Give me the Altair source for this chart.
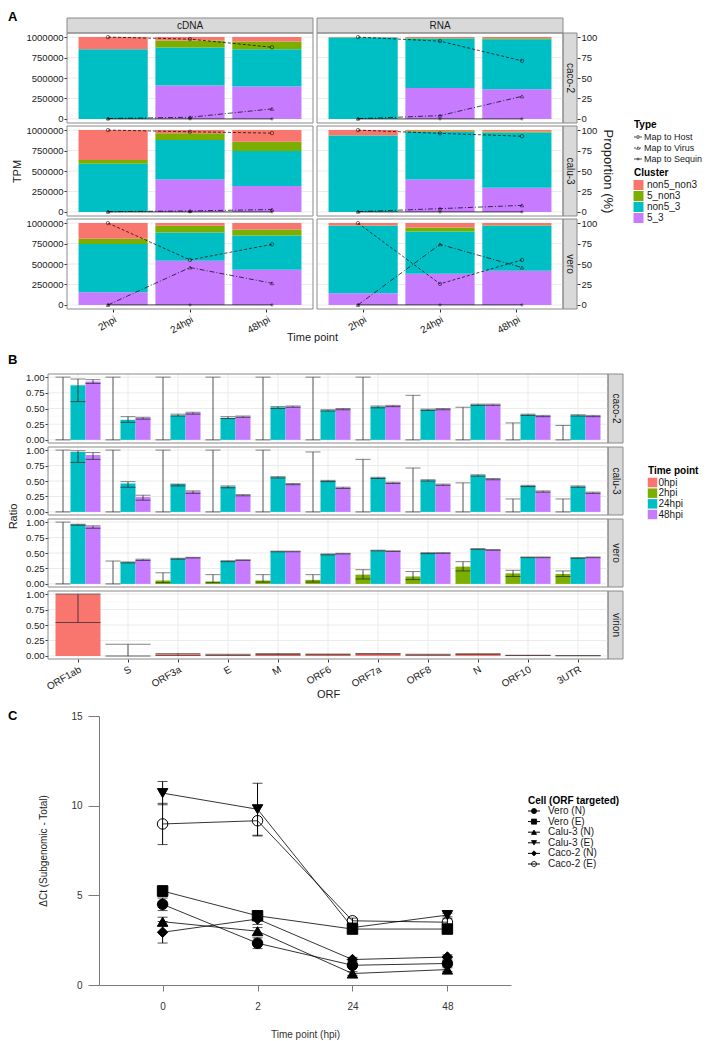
import altair as alt
import pandas as pd

FONT = "Liberation Sans"
TXT = "#1a1a1a"
TICK = "#333333"
BORDER = "#8a8a8a"
STRIP_FILL = "#d9d9d9"
GRID_MAJOR = "#ebebeb"
GRID_MINOR = "#f5f5f5"
AXC = "#7a7a7a"
PLUS = "M-1,0L1,0M0,-1L0,1"

# ---------------- Panel A data ----------------
libraries = ["cDNA", "RNA"]
cell_lines_a = ["caco-2", "calu-3", "vero"]
time_a = ["2hpi", "24hpi", "48hpi"]
clusters = ["non5_non3", "5_non3", "non5_3", "5_3"]
cluster_colors = ["#F8766D", "#7CAE00", "#00BFC4", "#C77CFF"]
stack_order = ["5_3", "non5_3", "5_non3", "non5_non3"]
map_types = ["Map to Host", "Map to Virus", "Map to Sequin"]
map_dashes = [[3, 2], [5, 2, 1, 2], [1, 0]]
map_shapes = ["circle", "triangle-up", PLUS]

# order: cDNA caco-2 (2,24,48hpi), cDNA calu-3, cDNA vero, RNA caco-2, RNA calu-3, RNA vero
tpm_5_3 = [0, 407000, 395000, 0, 396000, 318000, 155000, 539000, 429000,
           0, 379000, 362000, 0, 396000, 294000, 143000, 380000, 416000]
tpm_non5_3 = [852000, 465000, 457000, 590000, 482000, 426000, 588000, 347000, 420000,
              995000, 604000, 613000, 935000, 584000, 676000, 824000, 518000, 551000]
tpm_5_non3 = [0, 87000, 95000, 43000, 82000, 113000, 65000, 81000, 73000,
              2000, 7000, 12000, 3000, 8000, 12000, 5000, 49000, 8000]
tpm_non5_non3 = [148000, 41000, 53000, 367000, 40000, 143000, 192000, 33000, 78000,
                 3000, 10000, 13000, 62000, 12000, 18000, 28000, 53000, 25000]
pct_host = [100, 97.5, 87.6, 100, 98.0, 96.3, 100, 55.0, 74.0,
            100, 95.0, 71.0, 100, 96.0, 92.5, 100, 25.7, 55.0]
pct_virus = [0.5, 2.0, 12.3, 0.3, 1.2, 2.9, 0.0, 45.7, 26.5,
             0.3, 4.0, 27.6, 0.3, 4.0, 8.0, 0.0, 74.0, 45.7]
pct_sequin = [0.0, 0.0, 0.0, 0.0, 0.0, 0.0, 0.0, 0.0, 0.0,
              0.0, 0.0, 0.0, 0.0, 0.0, 0.0, 0.0, 0.0, 0.0]
tpm_ticks = [0, 250000, 500000, 750000, 1000000]
tpm_minor = [125000, 375000, 625000, 875000]
pct_ticks = [0, 25, 50, 75, 100]

# ---------------- Panel B data ----------------
orfs = ["ORF1ab", "S", "ORF3a", "E", "M", "ORF6", "ORF7a", "ORF8", "N", "ORF10", "3UTR"]
time_b = ["0hpi", "2hpi", "24hpi", "48hpi"]
time_colors = ["#F8766D", "#7CAE00", "#00BFC4", "#C77CFF"]
cell_lines_b = ["caco-2", "calu-3", "vero", "virion"]
ratio_ticks = [0, 0.25, 0.5, 0.75, 1.0]
ratio_minor = [0.125, 0.375, 0.625, 0.875]

caco2_2hpi = [0, 0, 0, 0, 0, 0, 0, 0, 0, 0, 0]
caco2_2hpi_lo = [0, 0, 0, 0, 0, 0, 0, 0, 0, 0, 0]
caco2_2hpi_hi = [1.0, 1.0, 1.0, 1.0, 1.0, 1.0, 1.0, 0.71, 0.52, 0.27, 0.23]
caco2_24hpi = [0.87, 0.32, 0.39, 0.35, 0.52, 0.47, 0.53, 0.48, 0.56, 0.40, 0.39]
caco2_24hpi_lo = [0.61, 0.28, 0.38, 0.34, 0.50, 0.46, 0.51, 0.47, 0.55, 0.39, 0.38]
caco2_24hpi_hi = [0.97, 0.37, 0.41, 0.37, 0.53, 0.48, 0.54, 0.49, 0.57, 0.41, 0.40]
caco2_48hpi = [0.93, 0.35, 0.43, 0.37, 0.53, 0.49, 0.54, 0.49, 0.56, 0.38, 0.38]
caco2_48hpi_lo = [0.90, 0.33, 0.41, 0.36, 0.52, 0.48, 0.53, 0.48, 0.55, 0.37, 0.37]
caco2_48hpi_hi = [0.96, 0.36, 0.44, 0.38, 0.54, 0.50, 0.55, 0.50, 0.57, 0.39, 0.39]

calu3_2hpi = [0, 0, 0, 0, 0, 0, 0, 0, 0, 0, 0]
calu3_2hpi_lo = [0, 0, 0, 0, 0, 0, 0, 0, 0, 0, 0]
calu3_2hpi_hi = [1.0, 1.0, 1.0, 1.0, 1.0, 0.97, 0.85, 0.71, 0.47, 0.21, 0.21]
calu3_24hpi = [0.97, 0.46, 0.45, 0.41, 0.56, 0.50, 0.55, 0.51, 0.59, 0.42, 0.41]
calu3_24hpi_lo = [0.80, 0.40, 0.42, 0.39, 0.55, 0.49, 0.54, 0.50, 0.58, 0.41, 0.40]
calu3_24hpi_hi = [0.99, 0.49, 0.45, 0.42, 0.57, 0.51, 0.56, 0.52, 0.60, 0.43, 0.42]
calu3_48hpi = [0.92, 0.24, 0.33, 0.27, 0.45, 0.39, 0.47, 0.44, 0.53, 0.33, 0.31]
calu3_48hpi_lo = [0.85, 0.19, 0.30, 0.26, 0.44, 0.38, 0.46, 0.43, 0.52, 0.32, 0.30]
calu3_48hpi_hi = [0.96, 0.27, 0.34, 0.28, 0.46, 0.40, 0.48, 0.45, 0.54, 0.34, 0.32]

vero_2hpi = [0, 0, 0.055, 0.04, 0.055, 0.065, 0.15, 0.12, 0.28, 0.17, 0.16]
vero_2hpi_lo = [0, 0, 0.02, 0.02, 0.03, 0.03, 0.08, 0.07, 0.21, 0.12, 0.12]
vero_2hpi_hi = [1.0, 0.37, 0.18, 0.15, 0.15, 0.15, 0.23, 0.20, 0.36, 0.22, 0.21]
vero_24hpi = [0.96, 0.35, 0.41, 0.37, 0.525, 0.48, 0.54, 0.50, 0.565, 0.43, 0.42]
vero_24hpi_lo = [0.95, 0.34, 0.40, 0.36, 0.52, 0.47, 0.535, 0.49, 0.56, 0.425, 0.415]
vero_24hpi_hi = [0.965, 0.355, 0.415, 0.375, 0.53, 0.485, 0.545, 0.505, 0.57, 0.435, 0.425]
vero_48hpi = [0.93, 0.39, 0.425, 0.385, 0.525, 0.49, 0.53, 0.50, 0.55, 0.43, 0.43]
vero_48hpi_lo = [0.90, 0.38, 0.42, 0.38, 0.52, 0.485, 0.525, 0.495, 0.545, 0.425, 0.425]
vero_48hpi_hi = [0.94, 0.40, 0.43, 0.39, 0.53, 0.495, 0.535, 0.505, 0.555, 0.435, 0.435]

virion_0hpi = [1.0, 0.0, 0.025, 0.02, 0.03, 0.025, 0.035, 0.02, 0.03, 0.01, 0.005]
virion_0hpi_lo = [0.54, 0.0, 0.01, 0.01, 0.02, 0.02, 0.03, 0.015, 0.025, 0.005, 0.003]
virion_0hpi_hi = [1.0, 0.19, 0.04, 0.025, 0.04, 0.03, 0.04, 0.025, 0.035, 0.012, 0.007]

# ---------------- Panel C data ----------------
cells_c = ["Vero (N)", "Vero (E)", "Calu-3 (N)", "Calu-3 (E)", "Caco-2 (N)", "Caco-2 (E)"]
shapes_c = ["circle", "square", "triangle-up", "triangle-down", "diamond", "circle"]
fills_c = ["black", "black", "black", "black", "black", "transparent"]
hpi_c = ["0", "2", "24", "48"]
dct_ticks = [0, 5, 10, 15]
dct_vero_n = [4.50, 2.33, 1.10, 1.20]
err_vero_n = [0.35, 0.30, 0.10, 0.15]
dct_vero_e = [5.24, 3.86, 3.12, 3.12]
err_vero_e = [0.30, 0.25, 0.20, 0.20]
dct_calu3_n = [3.53, 3.00, 0.64, 0.86]
err_calu3_n = [0.25, 0.20, 0.10, 0.10]
dct_calu3_e = [10.70, 9.80, 3.20, 3.90]
err_calu3_e = [0.65, 1.45, 0.10, 0.10]
dct_caco2_n = [2.94, 3.68, 1.42, 1.56]
err_caco2_n = [0.60, 0.30, 0.12, 0.12]
dct_caco2_e = [8.98, 9.16, 3.58, 3.50]
err_caco2_e = [1.15, 0.85, 0.15, 0.20]

# ---------------- data frames ----------------
tpm_by_cluster = {"5_3": tpm_5_3, "non5_3": tpm_non5_3,
                  "5_non3": tpm_5_non3, "non5_non3": tpm_non5_non3}
pct_by_type = {"Map to Host": pct_host, "Map to Virus": pct_virus, "Map to Sequin": pct_sequin}
recA, recL = [], []
idx = 0
for lib in libraries:
    for cl in cell_lines_a:
        for t in time_a:
            for k, c in enumerate(stack_order):
                recA.append({"library": lib, "cell": cl, "time": t, "cluster": c,
                             "order": k, "tpm": tpm_by_cluster[c][idx]})
            for m in map_types:
                recL.append({"library": lib, "cell": cl, "time": t, "type": m,
                             "pct": pct_by_type[m][idx]})
            idx += 1
dfA = pd.DataFrame(recA)
dfL = pd.DataFrame(recL)

b_series = [
    ("caco-2", "2hpi", caco2_2hpi, caco2_2hpi_lo, caco2_2hpi_hi),
    ("caco-2", "24hpi", caco2_24hpi, caco2_24hpi_lo, caco2_24hpi_hi),
    ("caco-2", "48hpi", caco2_48hpi, caco2_48hpi_lo, caco2_48hpi_hi),
    ("calu-3", "2hpi", calu3_2hpi, calu3_2hpi_lo, calu3_2hpi_hi),
    ("calu-3", "24hpi", calu3_24hpi, calu3_24hpi_lo, calu3_24hpi_hi),
    ("calu-3", "48hpi", calu3_48hpi, calu3_48hpi_lo, calu3_48hpi_hi),
    ("vero", "2hpi", vero_2hpi, vero_2hpi_lo, vero_2hpi_hi),
    ("vero", "24hpi", vero_24hpi, vero_24hpi_lo, vero_24hpi_hi),
    ("vero", "48hpi", vero_48hpi, vero_48hpi_lo, vero_48hpi_hi),
    ("virion", "0hpi", virion_0hpi, virion_0hpi_lo, virion_0hpi_hi),
]
recB = []
for cl, t, vals, los, his in b_series:
    for o, v, lo, hi in zip(orfs, vals, los, his):
        recB.append({"cell": cl, "time": t, "orf": o, "ratio": v, "lo": lo, "hi": hi})
dfB = pd.DataFrame(recB)

c_series = [
    ("Vero (N)", dct_vero_n, err_vero_n), ("Vero (E)", dct_vero_e, err_vero_e),
    ("Calu-3 (N)", dct_calu3_n, err_calu3_n), ("Calu-3 (E)", dct_calu3_e, err_calu3_e),
    ("Caco-2 (N)", dct_caco2_n, err_caco2_n), ("Caco-2 (E)", dct_caco2_e, err_caco2_e),
]
recC = []
for cl, vals, errs in c_series:
    for h, v, e in zip(hpi_c, vals, errs):
        recC.append({"cell": cl, "hpi": h, "dct": v, "lo": v - e, "hi": v + e})
dfC = pd.DataFrame(recC)

# ---------------- layout helpers (page px -> chart px) ----------------
W, H = 696, 1033


def cx(x):
    return x - 8


def cy(y):
    return y - 8


def band_scale(domain, left, right):
    return alt.Scale(domain=domain, range=[cx(left), cx(right)], paddingInner=0.1,
                     paddingOuter=0.15)


def lin_scale(domain, top, bottom):
    return alt.Scale(domain=domain, range=[cy(bottom), cy(top)], nice=False, zero=False)


def one(**kw):
    return pd.DataFrame({k: [v] for k, v in kw.items()})


def text_at(s, x, y, size=10, weight="normal", align="center", baseline="middle", angle=0,
            color=TXT):
    return alt.Chart(one(t=s)).mark_text(
        fontSize=size, fontWeight=weight, align=align, baseline=baseline, angle=angle,
        color=color).encode(text="t:N", x=alt.value(cx(x)), y=alt.value(cy(y)))


def box(left, top, right, bottom, fill="transparent", stroke=BORDER):
    return alt.Chart(one(a=0)).mark_rect(fill=fill, stroke=stroke, strokeWidth=1).encode(
        x=alt.value(cx(left)), x2=alt.value(cx(right)), y=alt.value(cy(top)),
        y2=alt.value(cy(bottom)))


def hgrid(values, ysc, left, right, color, width):
    return alt.Chart(pd.DataFrame({"v": values})).mark_rule(color=color, strokeWidth=width).encode(
        y=alt.Y("v:Q", scale=ysc, axis=None), x=alt.value(cx(left)), x2=alt.value(cx(right)))


def left_axis(x, **kw):
    return alt.Axis(orient="left", offset=-cx(x), **kw)


def right_axis(x, **kw):
    return alt.Axis(orient="right", offset=cx(x) - W, **kw)


def bottom_axis(y, **kw):
    return alt.Axis(orient="bottom", offset=cy(y) - H, **kw)


layers = []

# ---------------- Panel A ----------------
A_cols = {"cDNA": (67, 313), "RNA": (317, 563)}
A_rows = [(33, 123), (126, 216), (219, 309)]

layers.append(text_at("A", 8, 21, size=13, weight="bold", align="left", baseline="alphabetic",
                      color="black"))
for lib in libraries:
    L, R = A_cols[lib]
    layers.append(box(L, 18, R, 33, fill=STRIP_FILL))
    layers.append(text_at(lib, (L + R) / 2, 25.5))

for r, cl in enumerate(cell_lines_a):
    T, B = A_rows[r]
    layers.append(box(563, T, 577, B, fill=STRIP_FILL))
    layers.append(text_at(cl, 570, (T + B) / 2, angle=90))
    for lib in libraries:
        L, R = A_cols[lib]
        bars_d = dfA[(dfA.library == lib) & (dfA.cell == cl)]
        lines_d = dfL[(dfL.library == lib) & (dfL.cell == cl)]
        xs = band_scale(time_a, L, R)
        ys = lin_scale([-50000, 1050000], T, B)
        ps = lin_scale([-5, 105], T, B)
        layers.append(hgrid(tpm_minor, ys, L, R, GRID_MINOR, 0.6))
        layers.append(hgrid(tpm_ticks, ys, L, R, GRID_MAJOR, 1))
        if r == 2:
            xaxis = bottom_axis(B, title="Time point" if lib == "cDNA" else "", labelAngle=-30,
                                labelAlign="right", labelBaseline="top", labelFontSize=10,
                                labelColor=TXT, labelPadding=2, tickSize=3, tickColor=TICK,
                                domain=False, grid=False, titleFontSize=11,
                                titleFontWeight="normal", titleColor=TXT, titleX=cx(312),
                                titleY=22, titleBaseline="top", titleAlign="center")
        else:
            xaxis = None
        if lib == "cDNA":
            yaxis = left_axis(L, values=tpm_ticks, format="d", tickSize=3, tickColor=TICK,
                              domain=False, grid=False, labelFontSize=9.5, labelColor=TXT,
                              labelPadding=1, title="TPM" if r == 1 else "", titleFontSize=11,
                              titleFontWeight="normal", titleColor=TXT, titlePadding=4)
        else:
            yaxis = None
        layers.append(alt.Chart(bars_d).mark_bar().encode(
            x=alt.X("time:N", sort=time_a, scale=xs, axis=xaxis),
            y=alt.Y("tpm:Q", stack="zero", scale=ys, axis=yaxis),
            color=alt.Color("cluster:N", scale=alt.Scale(domain=clusters, range=cluster_colors),
                            legend=None),
            order=alt.Order("order:Q", sort="ascending"),
        ))
        if lib == "RNA":
            paxis = right_axis(577, values=pct_ticks, tickSize=3, tickColor=TICK, domain=False,
                               grid=False, labelFontSize=9.5, labelColor=TXT, labelPadding=1,
                               title="Proportion (%)" if r == 1 else "", titleFontSize=13,
                               titleFontWeight="normal", titleColor=TXT, titlePadding=4)
        else:
            paxis = None
        xl = alt.X("time:N", sort=time_a, scale=xs, axis=None)
        layers.append(alt.Chart(lines_d).mark_line(color="black", strokeWidth=0.7).encode(
            x=xl, y=alt.Y("pct:Q", scale=ps, axis=paxis), detail="type:N",
            strokeDash=alt.StrokeDash("type:N",
                                      scale=alt.Scale(domain=map_types, range=map_dashes),
                                      legend=None)))
        layers.append(alt.Chart(lines_d).mark_point(color="black", size=12,
                                                    strokeWidth=0.7).encode(
            x=xl, y=alt.Y("pct:Q", scale=ps, axis=None),
            shape=alt.Shape("type:N", scale=alt.Scale(domain=map_types, range=map_shapes),
                            legend=None)))
        layers.append(box(L, T, R, B))

# legend A : Type   (shifted a little left so that every entry stays visible)
LGA = 634
layers.append(text_at("Type", LGA, 125, weight="bold", align="left", color="black"))
d_type = pd.DataFrame({"lab": map_types})
y_type = alt.Y("lab:N", sort=map_types, axis=None,
               scale=alt.Scale(type="point", domain=map_types, range=[cy(137), cy(159)],
                               padding=0))
layers.append(alt.Chart(d_type).mark_rule(color="black", strokeWidth=0.7).encode(
    x=alt.value(cx(LGA)), x2=alt.value(cx(LGA + 8)), y=y_type,
    strokeDash=alt.StrokeDash("lab:N", scale=alt.Scale(domain=map_types,
                                                       range=[[2, 1], [2, 1, 1, 1], [1, 0]]),
                              legend=None)))
layers.append(alt.Chart(d_type).mark_point(color="black", size=10, strokeWidth=0.7).encode(
    x=alt.value(cx(LGA + 4)), y=y_type,
    shape=alt.Shape("lab:N", scale=alt.Scale(domain=map_types, range=map_shapes), legend=None)))
layers.append(alt.Chart(d_type).mark_text(align="left", fontSize=9, color=TXT).encode(
    x=alt.value(cx(LGA + 10)), y=y_type, text="lab:N"))

# legend A : Cluster
layers.append(text_at("Cluster", LGA, 173, weight="bold", align="left", color="black"))
d_cl = pd.DataFrame({"lab": clusters})
y_cl = alt.Y("lab:N", sort=clusters, axis=None,
             scale=alt.Scale(type="point", domain=clusters, range=[cy(185), cy(218)], padding=0))
layers.append(alt.Chart(d_cl).mark_square(size=100, opacity=1).encode(
    x=alt.value(cx(LGA + 4.5)), y=y_cl,
    color=alt.Color("lab:N", scale=alt.Scale(domain=clusters, range=cluster_colors),
                    legend=None)))
layers.append(alt.Chart(d_cl).mark_text(align="left", fontSize=10, color=TXT).encode(
    x=alt.value(cx(LGA + 13)), y=y_cl, text="lab:N"))

# ---------------- Panel B ----------------
BL, BR = 48, 608
B_rows = [(374, 443), (447, 515), (519, 587), (591, 659)]
layers.append(text_at("B", 8, 364, size=13, weight="bold", align="left", baseline="alphabetic",
                      color="black"))
for r, cl in enumerate(cell_lines_b):
    T, B = B_rows[r]
    d = dfB[dfB.cell == cl]
    present = set(d.time)
    tp = [t for t in time_b if t in present]
    xs = band_scale(orfs, BL, BR)
    ysc = lin_scale([-0.05, 1.05], T, B)
    xos = alt.Scale(domain=tp, paddingInner=0, paddingOuter=0)
    capw = 45 / len(tp)
    layers.append(box(BR, T, BR + 15, B, fill=STRIP_FILL))
    layers.append(text_at(cl, BR + 7.5, (T + B) / 2, angle=90))
    layers.append(hgrid(ratio_minor, ysc, BL, BR, GRID_MINOR, 0.6))
    layers.append(hgrid(ratio_ticks, ysc, BL, BR, GRID_MAJOR, 1))
    layers.append(alt.Chart(pd.DataFrame({"orf": orfs})).mark_rule(
        color=GRID_MAJOR, strokeWidth=1).encode(
        x=alt.X("orf:N", sort=orfs, scale=xs, axis=None), y=alt.value(cy(T)),
        y2=alt.value(cy(B))))
    if r == 3:
        xaxis = bottom_axis(B, title="ORF", labelAngle=-30, labelAlign="right",
                            labelBaseline="top", labelFontSize=10, labelColor=TXT,
                            labelPadding=2, tickSize=3, tickColor=TICK, domain=False,
                            grid=False, titleFontSize=11, titleFontWeight="normal",
                            titleColor=TXT, titleY=29, titleBaseline="top")
    else:
        xaxis = None
    yaxis = left_axis(BL, values=ratio_ticks, format=".2f", tickSize=3, tickColor=TICK,
                      domain=False, grid=False, labelFontSize=9.5, labelColor=TXT,
                      labelPadding=1, title="Ratio" if r == 1 else "", titleFontSize=11,
                      titleFontWeight="normal", titleColor=TXT, titlePadding=7,
                      titleY=cy(516))
    xo = alt.XOffset("time:N", sort=tp, scale=xos)
    xn = alt.X("orf:N", sort=orfs, scale=xs, axis=None)
    layers.append(alt.Chart(d).mark_bar().encode(
        x=alt.X("orf:N", sort=orfs, scale=xs, axis=xaxis), xOffset=xo,
        y=alt.Y("ratio:Q", scale=ysc, axis=yaxis),
        color=alt.Color("time:N", scale=alt.Scale(domain=time_b, range=time_colors),
                        legend=None)))
    layers.append(alt.Chart(d).mark_rule(color="#262626", strokeWidth=0.8).encode(
        x=xn, xOffset=xo, y=alt.Y("lo:Q", scale=ysc, axis=None), y2="hi:Q"))
    layers.append(alt.Chart(d).mark_tick(color="#262626", thickness=1, size=capw).encode(
        x=xn, xOffset=xo, y=alt.Y("lo:Q", scale=ysc, axis=None)))
    layers.append(alt.Chart(d).mark_tick(color="#4d4d4d", thickness=1, size=capw).encode(
        x=xn, xOffset=xo, y=alt.Y("hi:Q", scale=ysc, axis=None)))
    layers.append(box(BL, T, BR, B))

# legend B
layers.append(text_at("Time point", 648, 471, weight="bold", align="left", color="black"))
d_tb = pd.DataFrame({"lab": time_b})
y_tb = alt.Y("lab:N", sort=time_b, axis=None,
             scale=alt.Scale(type="point", domain=time_b, range=[cy(482.5), cy(514.5)],
                             padding=0))
layers.append(alt.Chart(d_tb).mark_square(size=90, opacity=1).encode(
    x=alt.value(cx(652.5)), y=y_tb,
    color=alt.Color("lab:N", scale=alt.Scale(domain=time_b, range=time_colors), legend=None)))
layers.append(alt.Chart(d_tb).mark_text(align="left", fontSize=10, color=TXT).encode(
    x=alt.value(cx(658.5)), y=y_tb, text="lab:N"))

# ---------------- Panel C ----------------
layers.append(text_at("C", 8, 720, size=13, weight="bold", align="left", baseline="alphabetic",
                      color="black"))
xcs = alt.Scale(type="point", domain=hpi_c, range=[cx(99), cx(511)], padding=0.67)
ycs = lin_scale([0, 15], 716, 985)
xc_axis = bottom_axis(985, title="Time point (hpi)", labelAngle=0, domainColor=AXC,
                      tickColor=AXC, tickSize=6, labelPadding=10, labelFontSize=10,
                      labelColor="#333333", titleFontSize=10, titleFontWeight="normal",
                      titleColor="#333333", titleY=44, titleBaseline="top", grid=False)
yc_axis = left_axis(99, values=dct_ticks, title="ΔCt (Subgenomic - Total)", domainColor=AXC,
                    tickColor=AXC, tickSize=11, labelPadding=6, labelFontSize=10,
                    labelColor="#333333", titleFontSize=10, titleFontWeight="normal",
                    titleColor="#262626", titlePadding=22, grid=False)
xcn = alt.X("hpi:N", sort=hpi_c, scale=xcs, axis=None)
layers.append(alt.Chart(dfC).mark_rule(color="black", strokeWidth=1).encode(
    x=xcn, y=alt.Y("lo:Q", scale=ycs, axis=None), y2="hi:Q"))
layers.append(alt.Chart(dfC).mark_tick(color="black", thickness=1, size=10).encode(
    x=xcn, y=alt.Y("lo:Q", scale=ycs, axis=None)))
layers.append(alt.Chart(dfC).mark_tick(color="black", thickness=1, size=10).encode(
    x=xcn, y=alt.Y("hi:Q", scale=ycs, axis=None)))
layers.append(alt.Chart(dfC).mark_line(color="black", strokeWidth=0.8).encode(
    x=alt.X("hpi:N", sort=hpi_c, scale=xcs, axis=xc_axis),
    y=alt.Y("dct:Q", scale=ycs, axis=yc_axis), detail="cell:N"))
layers.append(alt.Chart(dfC).mark_point(filled=True, size=110, stroke="black", strokeWidth=1,
                                        opacity=1).encode(
    x=xcn, y=alt.Y("dct:Q", scale=ycs, axis=None),
    shape=alt.Shape("cell:N", scale=alt.Scale(domain=cells_c, range=shapes_c), legend=None),
    fill=alt.Fill("cell:N", scale=alt.Scale(domain=cells_c, range=fills_c), legend=None)))

# legend C
layers.append(text_at("Cell (ORF targeted)", 528, 801, weight="bold", align="left",
                      color="black"))
d_cc = pd.DataFrame({"lab": cells_c})
y_cc = alt.Y("lab:N", sort=cells_c, axis=None,
             scale=alt.Scale(type="point", domain=cells_c, range=[cy(811), cy(864)], padding=0))
layers.append(alt.Chart(d_cc).mark_rule(color="black", strokeWidth=1).encode(
    x=alt.value(cx(528)), x2=alt.value(cx(540)), y=y_cc))
layers.append(alt.Chart(d_cc).mark_point(filled=True, size=26, stroke="black", strokeWidth=0.8,
                                         opacity=1).encode(
    x=alt.value(cx(534)), y=y_cc,
    shape=alt.Shape("lab:N", scale=alt.Scale(domain=cells_c, range=shapes_c), legend=None),
    fill=alt.Fill("lab:N", scale=alt.Scale(domain=cells_c, range=fills_c), legend=None)))
layers.append(alt.Chart(d_cc).mark_text(align="left", fontSize=10, color=TXT).encode(
    x=alt.value(cx(548)), y=y_cc, text="lab:N"))

chart = alt.layer(*layers).resolve_scale(
    x="independent", y="independent", xOffset="independent", color="independent",
    fill="independent", shape="independent", strokeDash="independent"
).properties(
    width=W, height=H, padding={"left": 0, "top": 0, "right": 0, "bottom": 0},
    autosize=alt.AutoSizeParams(type="none")
).configure(font=FONT).configure_view(stroke="transparent")

chart.save("out.html", embed_options={"renderer": "svg", "actions": False})
